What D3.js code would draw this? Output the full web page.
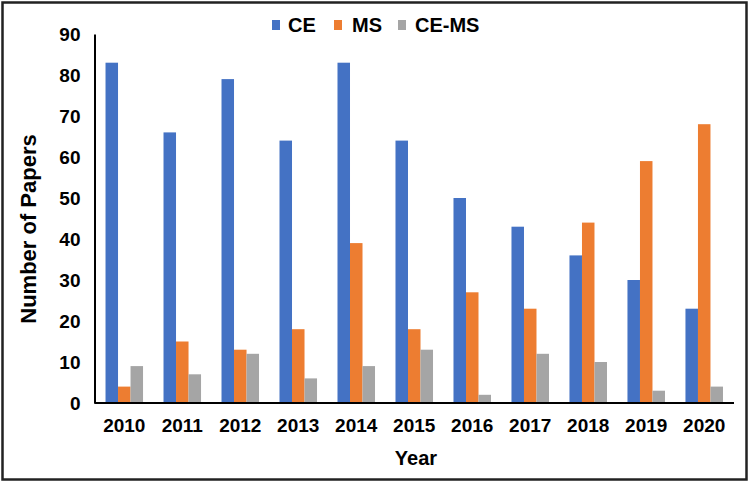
<!DOCTYPE html>
<html><head><meta charset="utf-8">
<script src="https://cdn.jsdelivr.net/npm/d3@7"></script>
<style>body{margin:0;background:#fff}svg{display:block}text{font-family:"Liberation Sans",Arial,sans-serif;font-weight:bold;fill:#000}</style>
</head><body><svg id="c" width="750" height="483"></svg>
<script>
const years = ["2010","2011","2012","2013","2014","2015","2016","2017","2018","2019","2020"];
const seriesNames = ["CE","MS","CE-MS"];
const ceValues = [83,66,79,64,83,64,50,43,36,30,23];
const msValues = [4,15,13,18,39,18,27,23,44,59,68];
const cemsValues = [9,7,12,6,9,13,2,12,10,3,4];
const yTicks = [0,10,20,30,40,50,60,70,80,90];
const colors = ["#4472C4","#ED7D31","#A5A5A5"];

const svg = d3.select("#c");
svg.append("rect").attr("x",2.5).attr("y",2.5).attr("width",744).attr("height",477)
  .attr("fill","#fff").attr("stroke","#222").attr("stroke-width",2.5);

const x0 = 94.5, x1 = 734, yB = 403, yT = 34;
const x = d3.scaleBand().domain(years).range([x0,x1]).paddingInner(0.353).paddingOuter(0.19);
const xs = d3.scaleBand().domain(seriesNames).range([0,x.bandwidth()]);
const y = d3.scaleLinear().domain([0,90]).range([yB,yT]);
const data = [ceValues,msValues,cemsValues];

const g = svg.append("g");
years.forEach((yr,i)=>{
  seriesNames.forEach((s,j)=>{
    g.append("rect").attr("x",x(yr)+xs(s)).attr("y",y(data[j][i]))
      .attr("width",xs.bandwidth()).attr("height",y(0)-y(data[j][i])).attr("fill",colors[j]);
  });
});

const yAxis = svg.append("g").attr("transform",`translate(${x0},0)`).call(d3.axisLeft(y).tickValues(yTicks).tickSize(0).tickPadding(14));
yAxis.select(".domain").attr("stroke","#000").attr("stroke-width",2);
yAxis.selectAll("text").style("font-size","19px").style("font-family","Liberation Sans, Arial, sans-serif").style("font-weight","bold");

const xAxis = svg.append("g").attr("transform",`translate(0,${yB})`).call(d3.axisBottom(x).tickSize(0).tickPadding(16));
xAxis.select(".domain").attr("stroke","#000").attr("stroke-width",2).attr("d",`M${x0},0H${x1}`);
xAxis.selectAll("text").style("font-size","19px").style("font-family","Liberation Sans, Arial, sans-serif").style("font-weight","bold");

svg.append("text").attr("x",416).attr("y",465).attr("text-anchor","middle").style("font-size","20px").text("Year");
svg.append("text").attr("transform","translate(36,229) rotate(-90)").attr("text-anchor","middle").style("font-size","22px").text("Number of Papers");

const leg = svg.append("g");
const legX = [272,334,398];
const legT = [288,352,415];
seriesNames.forEach((s,j)=>{
  leg.append("rect").attr("x",legX[j]).attr("y",20).attr("width",8).attr("height",10).attr("fill",colors[j]);
  leg.append("text").attr("x",legT[j]).attr("y",32).style("font-size",  "20px").text(s);
});
</script></body></html>
